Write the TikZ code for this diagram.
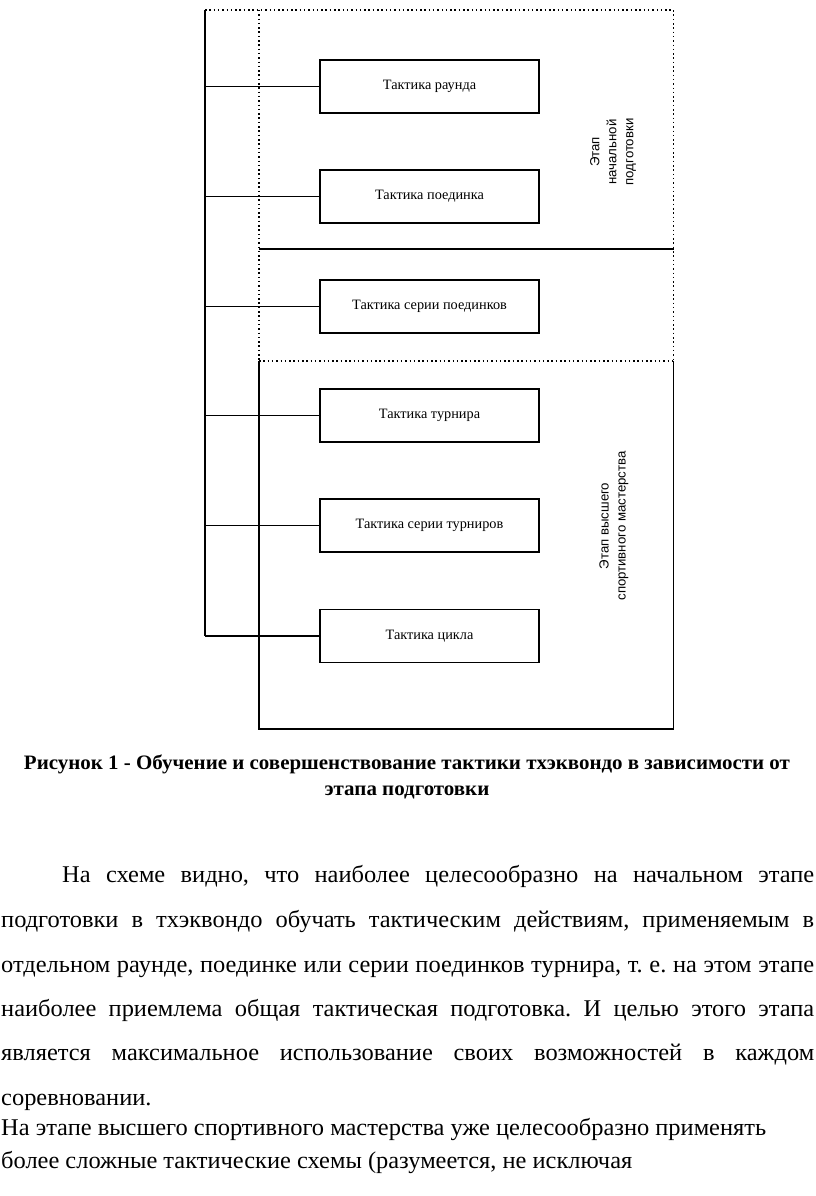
\documentclass[tikz,border=0pt]{standalone}
\usepackage{fontspec}
\usepackage{graphicx}
\setmainfont{Liberation Serif}
\newfontfamily\sansf{Liberation Sans}
\newsavebox\mb
\newlength\ml
\newcommand\bodyfont{\frenchspacing\fontsize{24}{28}\selectfont}
\newcommand\capfont{\frenchspacing\bfseries\fontsize{20.5}{23}\selectfont}
\AtBeginDocument{%
\sbox\mb{\bodyfont На этапе высшего спортивного мастерства уже целесообразно применять}%
\setlength\ml{\wd\mb}%
\pgfmathsetmacro\sx{765/\ml}\global\let\sx\sx
\pgfmathsetlengthmacro\wfull{813/\sx}\global\let\wfull\wfull
\pgfmathsetlengthmacro\wfirst{752/\sx}\global\let\wfirst\wfirst
\sbox\mb{\capfont Рисунок 1 - Обучение и совершенствование тактики тхэквондо в зависимости от}%
\setlength\ml{\wd\mb}%
\pgfmathsetmacro\sxc{766/\ml}\global\let\sxc\sxc
}
\begin{document}
\begin{tikzpicture}[x=1pt,y=-1pt,
  box/.style={draw, line width=1.8pt, minimum width=219pt, minimum height=53pt, inner sep=0pt, font=\fontsize{14.3}{17}\selectfont},
  link/.style={line width=1.4pt},
  dots/.style={line width=1.5pt, dash pattern=on 1.5pt off 2.8pt},
  frame/.style={line width=1.5pt},
  stage/.style={rotate=90, align=center, font=\sansf\fontsize{13.2}{17}\selectfont, inner sep=0pt},
  txt/.style={anchor=base west, inner sep=0pt},
  captxt/.style={anchor=base, inner sep=0pt},
]
\fill[white] (0,0) rectangle (816,1196);
\useasboundingbox (0,0) rectangle (816,1196);
% boxes
\node[box] (b1) at (429.5,86.5) {Тактика раунда};
\node[box] (b2) at (429.5,196.5) {Тактика поединка};
\node[box] (b3) at (429.5,306.5) {Тактика серии поединков};
\node[box] (b4) at (429.5,415.5) {Тактика турнира};
\node[box] (b5) at (429.5,525.5) {Тактика серии турниров};
\node[box] (b6) at (429.5,636) {Тактика цикла};
% trunk
\coordinate (ttop) at (205,10);
\draw[link] (ttop) -- (ttop |- b6.west);
\foreach \b in {b1,b2,b3,b4,b5,b6}{\draw[link] (\b.west) -- (\b.west -| ttop);}
% frames
\coordinate (fl) at (259,10);
\coordinate (fr) at (673.5,10);
\coordinate (ml) at (259,361);
\coordinate (mr) at (673.5,361);
\coordinate (bl) at (259,729);
\coordinate (br) at (673.5,729);
\draw[dots] (ttop) -- (fr) -- (mr);
\draw[dots] (fl) -- (ml);
\draw[dots] (ml) -- (mr);
\draw[frame] (259,249) -- (673.5,249);
\draw[frame] (ml) -- (bl) -- (br) -- (mr);
% stage labels
\node[stage] (s1) at (613,152) {Этап\\начальной\\подготовки};
\node[stage] (s2) at (614,526) {Этап высшего\\спортивного мастерства};
% caption
\node[captxt] (c1) at (407,769) {\capfont\scalebox{\sxc}[1]{Рисунок 1 - Обучение и совершенствование тактики тхэквондо в зависимости от}};
\node[captxt] (c2) at (407,795) {\capfont\scalebox{\sxc}[1]{этапа подготовки}};
% body text
\node[txt] (p1) at (62,882) {\bodyfont\scalebox{\sx}[1]{\makebox[\wfirst][s]{На схеме видно, что наиболее целесообразно на начальном этапе}}};
\node[txt] (p2) at (1,927) {\bodyfont\scalebox{\sx}[1]{\makebox[\wfull][s]{подготовки в тхэквондо обучать тактическим действиям, применяемым в}}};
\node[txt] (p3) at (1,972) {\bodyfont\scalebox{\sx}[1]{\makebox[\wfull][s]{отдельном раунде, поединке или серии поединков турнира, т. е. на этом этапе}}};
\node[txt] (p4) at (1,1016) {\bodyfont\scalebox{\sx}[1]{\makebox[\wfull][s]{наиболее приемлема общая тактическая подготовка. И целью этого этапа}}};
\node[txt] (p5) at (1,1060) {\bodyfont\scalebox{\sx}[1]{\makebox[\wfull][s]{является максимальное использование своих возможностей в каждом}}};
\node[txt] (p6) at (1,1105) {\bodyfont\scalebox{\sx}[1]{соревновании.}};
\node[txt] (p7) at (1,1135) {\bodyfont\scalebox{\sx}[1]{На этапе высшего спортивного мастерства уже целесообразно применять}};
\node[txt] (p8) at (1,1168) {\bodyfont\scalebox{\sx}[1]{более сложные тактические схемы (разумеется, не исключая}};
\end{tikzpicture}
\end{document}
